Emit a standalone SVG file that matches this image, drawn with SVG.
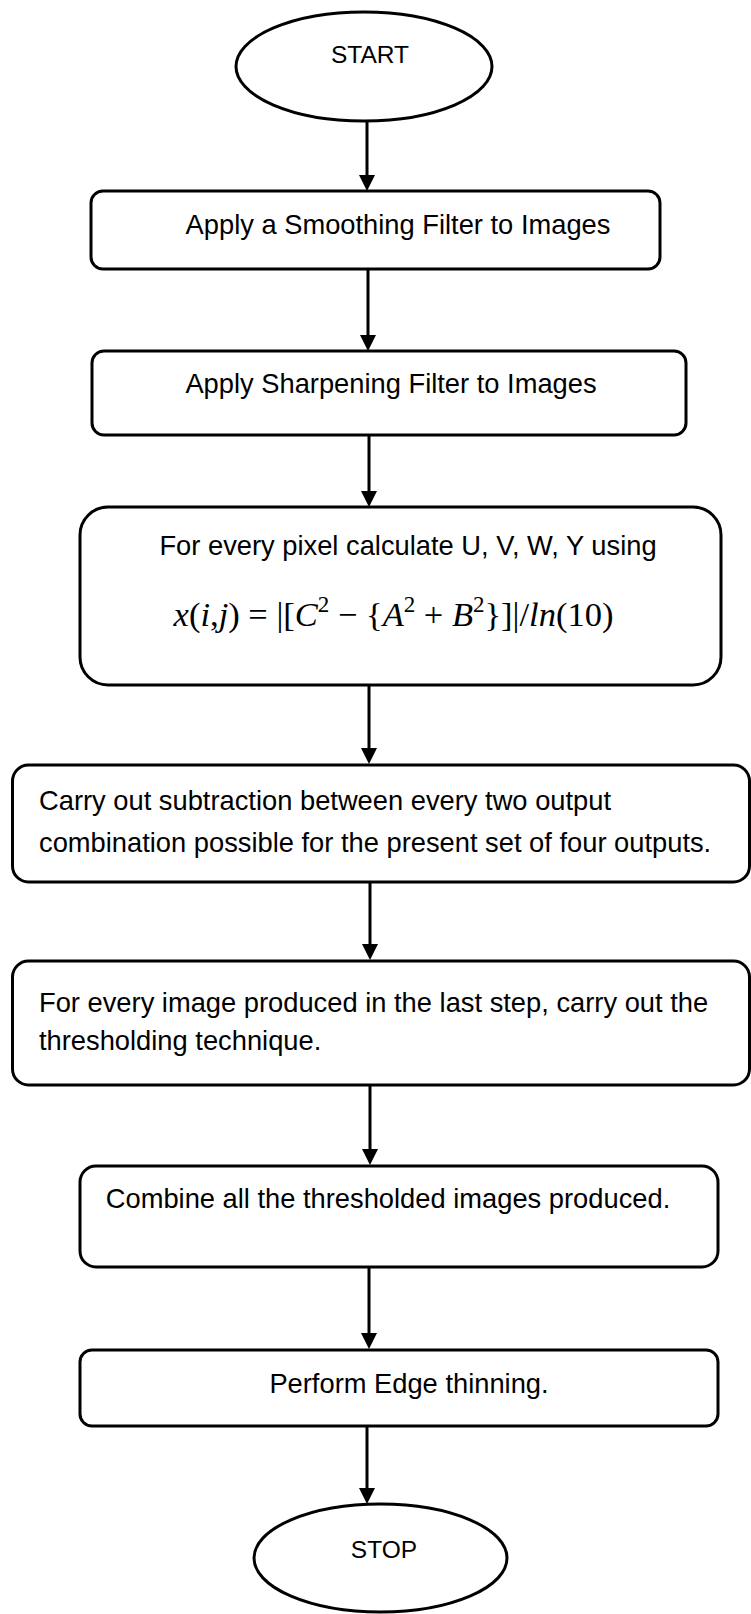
<svg xmlns="http://www.w3.org/2000/svg" width="751" height="1614" viewBox="0 0 751 1614">
<style>
.shape{fill:#fff;stroke:#000;stroke-width:3}
.lbl{font-family:"Liberation Sans",Arial,sans-serif;font-size:27.3px;fill:#000}
.term{font-family:"Liberation Sans",Arial,sans-serif;font-size:24.5px;fill:#000}
.math{font-family:"Liberation Serif","Times New Roman",serif;font-size:34.5px;fill:#000}
.conn{stroke:#000;stroke-width:3;fill:none}
</style>
<defs>
<marker id="arr" viewBox="0 0 16 16" refX="1" refY="8" markerWidth="16" markerHeight="16" markerUnits="userSpaceOnUse" orient="auto">
<path d="M0,0 L16,8 L0,16 z" fill="#000"/>
</marker>
</defs>
<g id="connectors">
<line class="conn" x1="367" y1="121" x2="367" y2="176" marker-end="url(#arr)"/>
<line class="conn" x1="368" y1="269" x2="368" y2="336" marker-end="url(#arr)"/>
<line class="conn" x1="369" y1="435" x2="369" y2="492" marker-end="url(#arr)"/>
<line class="conn" x1="369" y1="685" x2="369" y2="749" marker-end="url(#arr)"/>
<line class="conn" x1="370" y1="882" x2="370" y2="945" marker-end="url(#arr)"/>
<line class="conn" x1="370" y1="1085" x2="370" y2="1150" marker-end="url(#arr)"/>
<line class="conn" x1="369" y1="1267" x2="369" y2="1334" marker-end="url(#arr)"/>
<line class="conn" x1="367" y1="1426" x2="367" y2="1489" marker-end="url(#arr)"/>
</g>
<g id="start">
<ellipse class="shape" cx="364" cy="66.5" rx="128" ry="54.5"/>
<text class="term" x="370" y="63" text-anchor="middle">START</text>
</g>
<g id="smoothing">
<rect class="shape" x="91" y="191" width="569" height="78" rx="12"/>
<text class="lbl" x="398" y="234" text-anchor="middle">Apply a Smoothing Filter to Images</text>
</g>
<g id="sharpening">
<rect class="shape" x="92" y="351" width="594" height="84" rx="12"/>
<text class="lbl" x="391" y="393" text-anchor="middle">Apply Sharpening Filter to Images</text>
</g>
<g id="calculate">
<rect class="shape" x="80" y="507" width="641" height="178" rx="28"/>
<text class="lbl" x="408" y="555" text-anchor="middle">For every pixel calculate U, V, W, Y using</text>
<text class="math" x="393.5" y="626" text-anchor="middle"><tspan font-style="italic">x</tspan>(<tspan font-style="italic">i</tspan>,<tspan font-style="italic">j</tspan>) = |[<tspan font-style="italic">C</tspan><tspan font-size="23" dy="-14">2</tspan><tspan dy="14"> − {</tspan><tspan font-style="italic">A</tspan><tspan font-size="23" dy="-14">2</tspan><tspan dy="14"> + </tspan><tspan font-style="italic">B</tspan><tspan font-size="23" dy="-14">2</tspan><tspan dy="14">}]|/</tspan><tspan font-style="italic">ln</tspan>(10)</text>
</g>
<g id="subtraction">
<rect class="shape" x="12.5" y="765" width="737" height="117" rx="16"/>
<text class="lbl" x="39" y="810">Carry out subtraction between every two output</text>
<text class="lbl" x="39" y="852">combination possible for the present set of four outputs.</text>
</g>
<g id="thresholding">
<rect class="shape" x="12.5" y="961" width="737" height="124" rx="16"/>
<text class="lbl" x="39" y="1012">For every image produced in the last step, carry out the</text>
<text class="lbl" x="39" y="1050">thresholding technique.</text>
</g>
<g id="combine">
<rect class="shape" x="80" y="1166" width="638" height="101" rx="16"/>
<text class="lbl" x="388" y="1208" text-anchor="middle">Combine all the thresholded images produced.</text>
</g>
<g id="thinning">
<rect class="shape" x="80" y="1350" width="638" height="76" rx="12"/>
<text class="lbl" x="409" y="1393" text-anchor="middle">Perform Edge thinning.</text>
</g>
<g id="stop">
<ellipse class="shape" cx="380.5" cy="1558" rx="126.5" ry="54"/>
<text class="term" x="384" y="1558" text-anchor="middle">STOP</text>
</g>
</svg>
